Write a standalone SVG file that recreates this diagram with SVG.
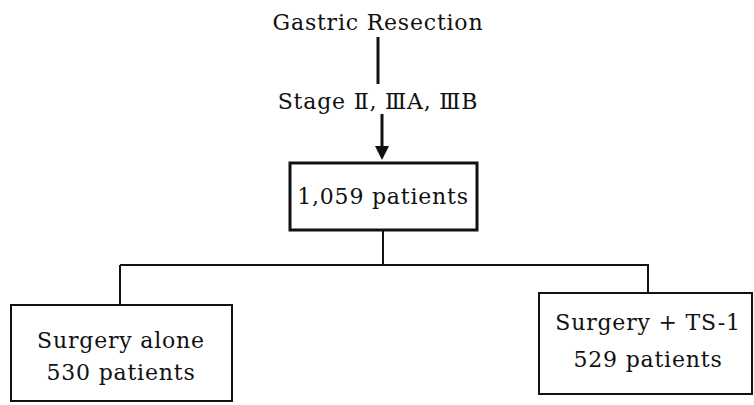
<svg xmlns="http://www.w3.org/2000/svg" width="754" height="405" viewBox="0 0 754 405">
<style>
text{font-family:"DejaVu Serif","Liberation Serif",serif;fill:#111;text-anchor:middle}
.t{font-size:22px;letter-spacing:0.8px}
.box{fill:#fff;stroke:#111;stroke-width:2}
.ln{fill:none;stroke:#111;stroke-width:2}
</style>
<rect width="754" height="405" fill="#fff"/>
<g id="connectors">
<line class="ln" x1="378" y1="37" x2="378" y2="84" style="stroke-width:3"/>
<line class="ln" x1="382" y1="114" x2="382" y2="148" style="stroke-width:3"/>
<path d="M375,146 L389,146 L382,160 Z" fill="#111"/>
<path class="ln" d="M383,231 V264 M120,265 H648 M120,265 V305 M648,264 V293"/>
</g>
<g id="title"><text class="t" x="378" y="30">Gastric Resection</text></g>
<g id="stage"><text class="t" x="378" y="109">Stage Ⅱ, ⅢA, ⅢB</text></g>
<g id="total">
<rect class="box" x="290" y="163" width="187" height="67" style="stroke-width:3"/>
<text class="t" x="383" y="204">1,059 patients</text>
</g>
<g id="surgery-alone">
<rect class="box" x="11" y="305" width="221" height="96"/>
<text class="t" x="121" y="348">Surgery alone</text>
<text class="t" x="121" y="380">530 patients</text>
</g>
<g id="surgery-ts1">
<rect class="box" x="539" y="293" width="213" height="101"/>
<text class="t" x="648" y="330">Surgery + TS-1</text>
<text class="t" x="648" y="367">529 patients</text>
</g>
</svg>
